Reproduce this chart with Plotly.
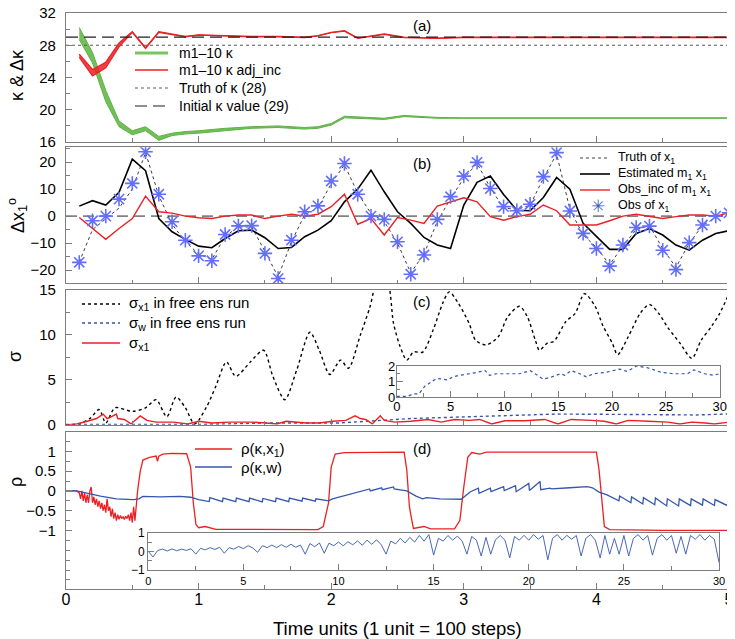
import plotly.graph_objects as go

FONT = "Liberation Sans, Arial, Helvetica, sans-serif"
GREEN = "rgb(92,178,68)"
GREEN_FILL = "rgba(104,186,76,0.92)"
RED = "rgb(236,32,36)"
BLUE = "rgb(52,86,172)"
FRAME = "rgb(125,125,125)"

# ---------- panel (a): kappa of members ----------
kap_t = [0.1, 0.2, 0.3, 0.4, 0.5, 0.6, 0.7, 0.8, 0.9, 1.0, 1.2, 1.4, 1.6, 1.8, 1.9,
         2.0, 2.1, 2.2, 2.4, 2.55, 2.8, 3.0, 5.0]
green_hi = [30.2, 27.1, 22.4, 18.6, 17.4, 17.9, 16.7, 17.1, 17.3, 17.4, 17.7, 17.9, 18.0,
            17.8, 17.9, 18.3, 19.2, 19.1, 18.95, 19.3, 19.05, 19.0, 19.0]
green_lo = [28.7, 25.8, 21.0, 17.9, 16.9, 17.4, 16.2, 16.8, 17.0, 17.1, 17.4, 17.7, 17.8,
            17.6, 17.7, 18.1, 19.0, 18.95, 18.8, 19.15, 18.95, 18.95, 18.95]
red_hi = [26.9, 25.0, 25.9, 28.3, 29.7, 27.7, 29.7, 29.4, 29.1, 29.3, 29.2, 29.1, 29.1,
          29.0, 29.2, 29.6, 29.8, 28.9, 29.4, 29.0, 28.9, 29.0, 29.0]
red_lo = [26.5, 24.2, 25.2, 27.8, 29.6, 27.6, 29.6, 29.35, 29.05, 29.25, 29.15, 29.05, 29.05,
          28.95, 29.15, 29.55, 29.75, 28.85, 29.35, 28.95, 28.85, 28.95, 28.95]
kappa_truth = 28
kappa_init = 29
t_span = [0, 5]

# ---------- panel (b): x1 ----------
obs_t = [round(0.1 * i, 1) for i in range(1, 51)]
obs_x1 = [-17.1, -1.7, 0.0, 6.3, 12.1, 23.8, 8.1, -2.1, -8.9, -14.7,
          -16.5, -6.8, -3.6, -3.5, -13.8, -23.1, -8.9, 1.6, 3.8, 13.0,
          19.5, 8.1, 0.0, -1.2, -9.5, -21.5, -14.4, -1.2, 7.2, 14.8,
          19.9, 10.2, 3.5, 2.0, 4.4, 14.6, 23.5, 1.9, -6.4, -12.0,
          -18.5, -10.7, -4.2, -3.7, -12.6, -19.8, -9.8, -3.3, 0.0, 1.2]
truth_x1 = [-17.0, -5.0, -1.0, 3.0, 10.0, 23.5, 7.5, -3.0, -9.5, -14.0,
            -16.0, -7.5, -4.0, -4.0, -13.0, -22.5, -9.5, 0.5, 3.0, 12.0,
            19.0, 8.5, 1.0, -2.0, -10.0, -21.0, -14.0, -2.0, 6.5, 14.0,
            19.5, 10.5, 3.0, 2.5, 4.0, 14.0, 23.0, 2.5, -7.0, -11.5,
            -18.0, -11.0, -5.0, -3.5, -12.0, -19.0, -10.0, -3.5, -0.5, 1.0]
est_x1 = [3.7, 5.7, 4.1, 8.8, 21.1, 16.8, -0.9, -5.8, -8.6, -11.1,
          -11.7, -8.3, -5.4, -5.2, -8.0, -12.0, -11.6, -7.6, -5.2, -1.7,
          5.3, 10.0, 17.0, 9.0, 1.6, -2.7, -7.9, -10.7, -12.0, 4.1,
          12.5, 14.8, 8.0, 2.2, 2.0, 6.9, 14.3, 10.0, -2.7, -7.6,
          -12.3, -12.3, -6.4, -4.6, -7.0, -10.7, -12.6, -8.9, -6.4, -5.4]
obs_inc = [-0.5, -4.6, -8.6, -4.6, -0.9, 7.4, 1.6, 1.1, 0.0, -0.6,
           -0.9, 0.0, 0.4, 0.4, -0.9, 0.0, 0.7, 0.0, 0.7, 3.5,
           8.1, -3.0, -0.9, -7.0, -0.5, -1.5, -2.7, 3.7, 5.3, 6.8,
           5.3, -0.2, -1.5, -0.2, 0.7, 4.1, 2.0, -3.3, -3.3, -3.3,
           -1.7, 0.0, 0.7, 0.0, -0.9, -0.2, 0.4, 0.4, 0.0, 1.2]

# ---------- panel (c): spreads ----------
sfree_t = [0, 0.1, 0.18, 0.25, 0.3, 0.37, 0.5, 0.6, 0.68, 0.76,
           0.83, 0.9, 0.97, 1.06, 1.13, 1.21, 1.28, 1.39, 1.49, 1.56,
           1.65, 1.74, 1.84, 1.91, 1.99, 2.07, 2.13, 2.22, 2.29, 2.35,
           2.42, 2.47, 2.52, 2.57, 2.62, 2.69, 2.77, 2.84, 2.89, 2.96,
           3.04, 3.09, 3.17, 3.26, 3.33, 3.42, 3.48, 3.54, 3.57, 3.63,
           3.68, 3.77, 3.84, 3.91, 3.99, 4.05, 4.12, 4.16, 4.24, 4.33,
           4.4, 4.47, 4.54, 4.63, 4.72, 4.79, 4.87, 4.93, 5.0]
sfree_x1 = [0, 0.1, 0.7, 1.7, 0.2, 1.9, 1.5, 1.9, 2.8, 0.9,
            3.1, 1.9, 0.1, 2.0, 4.3, 7.0, 5.4, 7.0, 8.3, 5.4,
            2.8, 6.1, 10.3, 8.3, 5.6, 7.2, 6.3, 10.0, 13.0, 16.0,
            16.0, 11.3, 8.7, 7.2, 8.1, 8.1, 10.6, 13.5, 14.8, 13.5,
            11.3, 9.4, 8.9, 9.8, 12.0, 13.2, 12.0, 9.4, 8.3, 9.1,
            9.3, 11.5, 12.4, 14.6, 13.2, 11.0, 9.1, 7.8, 9.8, 12.4,
            13.4, 12.4, 10.8, 9.1, 7.4, 9.4, 11.0, 12.4, 14.6]
sw_t = [0, 1.0, 1.5, 2.05, 2.6, 3.0, 3.7, 4.3, 4.75, 5.2,
        5.8, 6.8, 7.7, 8.2, 8.6, 9.25, 10.5, 11.4, 12.4, 13.0,
        13.6, 14.4, 15.2, 15.6, 16.2, 17.0, 17.6, 18.3, 19.5, 20.7,
        21.4, 22.3, 23.2, 23.9, 24.5, 25.7, 27.0, 27.6, 28.6, 29.4, 30.0]
sw_free = [0.04, 0.04, 0.2, 0.2, 0.7, 0.9, 1.2, 1.15, 1.1, 1.3,
           1.4, 1.5, 1.6, 1.7, 1.4, 1.5, 1.5, 1.5, 1.7, 1.4,
           1.15, 1.3, 1.5, 1.4, 1.7, 1.5, 1.3, 1.5, 1.6, 1.8,
           1.65, 2.0, 1.9, 1.75, 1.6, 1.5, 1.5, 1.75, 1.5, 1.4, 1.5]
sx1_t = [0, 0.08, 0.16, 0.23, 0.28, 0.31, 0.34, 0.38, 0.39, 0.44,
         0.49, 0.56, 0.61, 0.68, 0.81, 0.92, 1.0, 1.1, 1.23, 1.41,
         1.51, 1.59, 1.66, 1.81, 1.91, 2.01, 2.11, 2.18, 2.22, 2.26,
         2.31, 2.37, 2.4, 2.48, 2.6, 2.73, 2.83, 2.93, 3.04, 3.12,
         3.21, 3.31, 3.46, 3.61, 3.71, 3.81, 3.96, 4.06, 4.15, 4.24,
         4.39, 4.54, 4.63, 4.72, 4.82, 4.89, 5.0]
sx1 = [0, 0.1, 0.4, 0.7, 1.2, 0.7, 0.9, 1.2, 0.7, 0.6,
       0.1, 1.0, 0.5, 0.3, 0.3, 0.1, 0.4, 0.2, 0.3, 0.3,
       0.2, 0.1, 0.4, 0.2, 0.2, 0.4, 0.5, 1.0, 0.7, 0.6,
       0.1, 1.0, 0.5, 0.3, 0.4, 0.6, 0.3, 0.6, 0.5, 0.6,
       0.1, 0.45, 0.45, 0.6, 0.1, 0.6, 0.5, 0.4, 0.1, 0.5,
       0.4, 0.3, 0.1, 0.3, 0.2, 0.1, 0.3]

# ---------- panel (d): correlations ----------
rx1_t = [0, 0.08,
         0.10, 0.11, 0.12, 0.13, 0.14, 0.15, 0.16, 0.17, 0.18, 0.19,
         0.20, 0.21, 0.22, 0.23, 0.24, 0.25, 0.26, 0.27, 0.28, 0.29,
         0.30, 0.31, 0.32, 0.33, 0.34, 0.35, 0.36, 0.37, 0.38, 0.39,
         0.40, 0.41, 0.42, 0.43, 0.44, 0.45, 0.46, 0.47, 0.48, 0.49,
         0.50, 0.51, 0.52,
         0.54, 0.56, 0.58, 0.63, 0.68, 0.69, 0.7, 0.73, 0.8, 0.91,
         0.94, 0.96, 0.98, 1.0, 1.05, 1.13, 1.5, 1.9, 1.94, 1.98,
         2.0, 2.03, 2.1, 2.55, 2.57, 2.59, 2.6, 2.62, 2.7, 2.75,
         2.93, 2.97, 3.0, 3.03, 3.06, 3.12, 3.17, 3.5, 4.0, 4.02,
         4.04, 4.06, 4.1, 4.5, 5.0]
rho_kx1 = [0, 0,
           -0.05, -0.2, 0.0, -0.25, -0.05, -0.3, -0.1, -0.3, 0.0, 0.1,
           -0.3, -0.15, -0.35, -0.2, -0.4, -0.25, -0.45, -0.3, -0.5, -0.35,
           -0.55, -0.2, -0.5, -0.4, -0.65, -0.45, -0.7, -0.55, -0.75, -0.6,
           -0.72, -0.62, -0.7, -0.65, -0.72, -0.64, -0.7, -0.6, -0.75, -0.55,
           -0.8, -0.4, -0.75,
           0.0, 0.5, 0.78, 0.85, 0.88, 0.75, 0.88, 0.93, 0.95, 0.94,
           0.6, -0.3, -0.85, -0.93, -0.9, -0.97, -0.98, -0.98, -0.9, -0.3,
           0.6, 0.93, 0.97, 0.98, 0.53, -0.4, -0.6, -0.95, -0.9, -0.96,
           -0.96, -0.75, 0.1, 0.85, 0.97, 0.93, 0.98, 0.98, 0.98, 0.53,
           -0.3, -0.9, -0.98, -1.0, -1.0]
rw_t = [0, 0.08, 0.26, 0.38, 0.51, 0.55, 0.58, 0.71, 0.86, 0.94,
        1.0, 1.08, 1.085, 1.18, 1.185, 1.28, 1.285, 1.38, 1.385, 1.48,
        1.485, 1.58, 1.585, 1.68, 1.685, 1.78, 1.785, 1.88, 1.885, 1.98,
        2.01, 2.14, 2.22, 2.29, 2.295, 2.38, 2.385, 2.47, 2.475, 2.57,
        2.64, 2.69, 2.72, 2.82, 2.98, 3.05, 3.11, 3.115, 3.2, 3.205,
        3.3, 3.305, 3.39, 3.395, 3.49, 3.495, 3.575, 3.58, 3.65, 3.66,
        3.8, 3.93, 3.97, 4.02, 4.08, 4.17, 4.175, 4.26, 4.265, 4.35,
        4.355, 4.44, 4.445, 4.53, 4.535, 4.62, 4.625, 4.71, 4.715, 4.8,
        4.805, 4.89, 4.895, 4.98, 5.0]
rho_kw = [0, 0, -0.13, -0.2, -0.22, -0.2, -0.14, -0.15, -0.14, -0.16,
          -0.22, -0.27, -0.17, -0.27, -0.18, -0.27, -0.18, -0.27, -0.18, -0.28,
          -0.19, -0.27, -0.18, -0.27, -0.18, -0.26, -0.18, -0.26, -0.2, -0.25,
          -0.2, -0.08, -0.02, 0.05, 0.0, 0.08, 0.03, 0.1, 0.05, 0.0,
          -0.13, -0.2, -0.17, -0.2, -0.21, -0.02, 0.07, -0.06, 0.07, -0.02,
          0.11, 0.01, 0.13, -0.02, 0.19, 0.01, 0.24, 0.03, 0.07, 0.05,
          0.08, 0.11, 0.08, -0.03, -0.1, -0.25, -0.13, -0.3, -0.15, -0.33,
          -0.17, -0.35, -0.18, -0.38, -0.2, -0.38, -0.2, -0.37, -0.2, -0.36,
          -0.2, -0.37, -0.22, -0.36, -0.3]
# long run of rho(kappa, w) for the inset, every quarter time unit
long_t = [i * 0.25 for i in range(121)]
rho_kw_long = [0.0, -0.3, 0.05, 0.12, 0.02, 0.13, 0.03, 0.12, 0.05, 0.14,
               -0.15, 0.16, 0.08, 0.2, 0.1, 0.22, -0.1, 0.2, 0.12, 0.26,
               0.15, 0.3, 0.18, -0.05, 0.3, 0.2, 0.34, 0.2, 0.36, 0.22,
               0.38, 0.22, 0.34, -0.15, 0.42, 0.25, 0.45, -0.1, 0.44, 0.3,
               0.5, 0.3, 0.52, 0.35, 0.56, 0.33, 0.6, 0.38, 0.62, 0.35,
               -0.15, 0.55, 0.4, 0.7, 0.45, 0.75, 0.5, 0.85, 0.55, 0.9,
               -0.2, 0.7, 0.55, 0.85, 0.6, 0.82, 0.55, -0.15, 0.8, 0.6,
               -0.25, 0.75, -0.15, 0.62, 0.85, 0.6, -0.35, 0.8, 0.6, 0.86,
               0.6, 0.9, 0.65, 0.85, -0.45, 0.7, 0.9, 0.6, 0.86, 0.65,
               0.85, -0.25, 0.7, 0.9, 0.6, -0.35, 0.85, -0.15, 0.7, -0.15,
               0.85, -0.25, 0.7, 0.9, 0.6, 0.85, -0.2, 0.7, 0.9, 0.6,
               0.85, -0.1, 0.8, -0.15, 0.85, 0.65, 0.9, 0.6, 0.85, 0.65,
               -0.6]

fig = go.Figure()

# (a)
fig.add_trace(go.Scatter(x=kap_t, y=green_lo, mode="lines", line=dict(color=GREEN, width=1)))
fig.add_trace(go.Scatter(x=kap_t, y=green_hi, mode="lines", line=dict(color=GREEN, width=1),
                         fill="tonexty", fillcolor=GREEN_FILL))
fig.add_trace(go.Scatter(x=kap_t, y=red_lo, mode="lines", line=dict(color=RED, width=1.2)))
fig.add_trace(go.Scatter(x=kap_t, y=red_hi, mode="lines", line=dict(color=RED, width=1.2),
                         fill="tonexty", fillcolor="rgba(236,32,36,0.85)"))
fig.add_trace(go.Scatter(x=t_span, y=[kappa_truth] * 2, mode="lines",
                         line=dict(color="rgb(90,90,90)", width=1.2, dash="dot")))
fig.add_trace(go.Scatter(x=t_span, y=[kappa_init] * 2, mode="lines",
                         line=dict(color="rgb(30,30,30)", width=1.2, dash="12px,6px")))

# (b)
fig.add_trace(go.Scatter(x=t_span, y=[0, 0], mode="lines", xaxis="x2", yaxis="y2",
                         line=dict(color="rgb(130,130,130)", width=1.6, dash="11px,6px")))
fig.add_trace(go.Scatter(x=obs_t, y=truth_x1, mode="lines", xaxis="x2", yaxis="y2",
                         line=dict(color="rgb(60,60,60)", width=1, dash="dot")))
fig.add_trace(go.Scatter(x=obs_t, y=est_x1, mode="lines", xaxis="x2", yaxis="y2",
                         line=dict(color="black", width=1.6)))
fig.add_trace(go.Scatter(x=obs_t, y=obs_inc, mode="lines", xaxis="x2", yaxis="y2",
                         line=dict(color=RED, width=1.4)))
fig.add_trace(go.Scatter(x=obs_t, y=obs_x1, mode="markers", xaxis="x2", yaxis="y2",
                         marker=dict(symbol="asterisk-open", size=12,
                                     line=dict(color="rgb(62,98,188)", width=1.6))))

# (c)
fig.add_trace(go.Scatter(x=sfree_t, y=sfree_x1, mode="lines", xaxis="x3", yaxis="y3",
                         line=dict(color="black", width=1.4, dash="dot", shape="spline", smoothing=0.8)))
sw_main_t = [t for t in sw_t if t <= 5.2]
fig.add_trace(go.Scatter(x=sw_main_t, y=sw_free[:len(sw_main_t)], mode="lines", xaxis="x3", yaxis="y3",
                         line=dict(color=BLUE, width=1.4, dash="dot")))
fig.add_trace(go.Scatter(x=sx1_t, y=sx1, mode="lines", xaxis="x3", yaxis="y3",
                         line=dict(color=RED, width=1.4)))
fig.add_trace(go.Scatter(x=sw_t, y=sw_free, mode="lines", xaxis="x5", yaxis="y5",
                         line=dict(color=BLUE, width=1.2, dash="dot")))

# (d)
fig.add_trace(go.Scatter(x=rx1_t, y=rho_kx1, mode="lines", xaxis="x4", yaxis="y4",
                         line=dict(color=RED, width=1.3)))
fig.add_trace(go.Scatter(x=rw_t, y=rho_kw, mode="lines", xaxis="x4", yaxis="y4",
                         line=dict(color=BLUE, width=1.3)))
fig.add_trace(go.Scatter(x=long_t, y=rho_kw_long, mode="lines", xaxis="x6", yaxis="y6",
                         line=dict(color=BLUE, width=0.9)))
fig.update_traces(showlegend=False)


def xax(domain, anchor, labels=False, rng=(0, 5), dtick=1, minor=0.5, size=16, standoff=5):
    return dict(domain=domain, anchor=anchor, range=list(rng), showline=True, mirror=True,
                linecolor=FRAME, linewidth=1.2, ticks="inside", ticklen=6, tickcolor=FRAME,
                dtick=dtick, tick0=0, showgrid=False, zeroline=False, showticklabels=labels,
                automargin=False, ticklabeloverflow="allow",
                minor=dict(dtick=minor, tick0=0, ticks="inside", ticklen=3.5, tickcolor=FRAME),
                tickfont=dict(family=FONT, size=size, color="black"), ticklabelstandoff=standoff)


def yax(domain, anchor, rng, tickvals, minor, size=15, standoff=6):
    return dict(domain=domain, anchor=anchor, range=list(rng), showline=True, mirror=True,
                linecolor=FRAME, linewidth=1.2, ticks="inside", ticklen=6, tickcolor=FRAME,
                tickvals=tickvals, showgrid=False, zeroline=False, automargin=False,
                ticklabeloverflow="allow",
                minor=dict(dtick=minor, tick0=0, ticks="inside", ticklen=3.5, tickcolor=FRAME),
                tickfont=dict(family=FONT, size=size, color="black"), ticklabelstandoff=standoff)


# the page body sits 8 px in from the window edge, so the figure is 16 px smaller
fig.update_layout(
    width=727, height=631, plot_bgcolor="white", paper_bgcolor="white",
    margin=dict(l=58, r=6, t=5, b=50, autoexpand=False),
    font=dict(family=FONT, color="black"),
    showlegend=False,
    xaxis=xax([0, 1], "y"),
    yaxis=yax([0.776, 1.0], "x", (16, 32), [16, 20, 24, 28, 32], 2),
    xaxis2=xax([0, 1], "y2"),
    yaxis2=yax([0.531, 0.767], "x2", (-24.8, 25.5), [-20, -10, 0, 10, 20], 5),
    xaxis3=xax([0, 1], "y3"),
    yaxis3=yax([0.285, 0.519], "x3", (0, 15), [0, 5, 10, 15], 2.5),
    xaxis4=xax([0, 1], "y4", labels=True, standoff=-4),
    yaxis4=yax([0.0, 0.2726], "x4", (-2.48, 1.49), [-1, -0.5, 0, 0.5, 1], 0.25),
    xaxis5=xax([0.499, 0.986], "y5", labels=True, rng=(0, 30), dtick=5, minor=2.5, size=13, standoff=-3),
    yaxis5=yax([0.3333, 0.3872], "x5", (0, 2), [0, 1, 2], 0.5, size=13, standoff=-2),
    xaxis6=xax([0.124, 0.985], "y6", labels=True, rng=(0, 30), dtick=5, minor=2.5, size=11, standoff=1),
    yaxis6=yax([0.033, 0.0977], "x6", (-1, 1), [-1, 0, 1], 0.5, size=12, standoff=0),
)


# hand-made legends, placed at the reference's window pixel positions
def px_x(px):
    return (px - 66) / 663.0


def px_y(py):
    return (589 - py) / 576.0


def legend_row(x0, x1, xt, py, text, size, line=None, glyph=None):
    if line is not None:
        fig.add_shape(type="line", xref="paper", yref="paper", x0=px_x(x0), x1=px_x(x1),
                      y0=px_y(py), y1=px_y(py), line=line)
    if glyph is not None:
        fig.add_annotation(text=glyph, x=px_x((x0 + x1) / 2), y=px_y(py), xref="paper", yref="paper",
                           showarrow=False, xanchor="center", yanchor="middle",
                           font=dict(family="DejaVu Sans", size=17, color="rgb(62,98,188)"))
    fig.add_annotation(text=text, x=px_x(xt), y=px_y(py), xref="paper", yref="paper",
                       showarrow=False, xanchor="left", yanchor="middle",
                       font=dict(family=FONT, size=size, color="black"))


legend_row(135, 168, 177, 53, "m1\u201310 \u03ba", 14, line=dict(color="rgb(120,196,95)", width=3))
legend_row(135, 168, 177, 70, "m1\u201310 \u03ba adj_inc", 14, line=dict(color=RED, width=1.4))
legend_row(135, 168, 177, 88, "Truth of \u03ba (28)", 14, line=dict(color="rgb(90,90,90)", width=1.2, dash="dot"))
legend_row(135, 168, 177, 106, "Initial \u03ba value (29)", 14,
           line=dict(color="rgb(30,30,30)", width=1.2, dash="12px,6px"))

legend_row(580, 610, 616, 158, "Truth of x<sub>1</sub>", 12.5, line=dict(color="rgb(60,60,60)", width=1, dash="dot"))
legend_row(580, 610, 616, 174, "Estimated m<sub>1</sub> x<sub>1</sub>", 12.5, line=dict(color="black", width=1.6))
legend_row(580, 610, 616, 190, "Obs_inc of m<sub>1</sub> x<sub>1</sub>", 12.5, line=dict(color=RED, width=1.4))
legend_row(590, 606, 616, 206, "Obs of x<sub>1</sub>", 12.5, glyph="\u2733")

legend_row(82, 120, 127, 304, "\u03c3<sub>x1</sub> in free ens run", 15,
           line=dict(color="black", width=1.4, dash="dot"))
legend_row(82, 120, 127, 323, "\u03c3<sub>w</sub> in free ens run", 15,
           line=dict(color=BLUE, width=1.4, dash="dot"))
legend_row(82, 120, 127, 343, "\u03c3<sub>x1</sub>", 15, line=dict(color=RED, width=1.4))

legend_row(195, 232, 239, 449, "\u03c1(\u03ba,x<sub>1</sub>)", 15, line=dict(color=RED, width=1.4))
legend_row(195, 232, 239, 467, "\u03c1(\u03ba,w)", 15, line=dict(color=BLUE, width=1.4))

# panel letters
for lab, ax, yv in [("(a)", "", 30.5), ("(b)", "2", 19.5), ("(c)", "3", 13.7), ("(d)", "4", 1.08)]:
    fig.add_annotation(text=lab, x=2.685, y=yv, xref="x" + ax, yref="y" + ax, showarrow=False,
                       font=dict(family=FONT, size=15))

# axis titles
for txt, py, pxx in [("\u03ba & \u0394\u03ba", 75, 17),
                     ("\u0394x<sub>1</sub><sup>o</sup>", 216, 17),
                     ("\u03c3", 357, 15),
                     ("\u03c1", 482, 16)]:
    fig.add_annotation(text=txt, x=px_x(pxx), y=px_y(py), xref="paper", yref="paper", showarrow=False,
                       xanchor="center", yanchor="middle", textangle=-90,
                       font=dict(family=FONT, size=18))
fig.add_annotation(text="Time units (1 unit = 100 steps)", x=px_x(397), y=px_y(628), xref="paper",
                   yref="paper", showarrow=False, xanchor="center", yanchor="middle",
                   font=dict(family=FONT, size=18.5))

fig.write_html("out.html")
